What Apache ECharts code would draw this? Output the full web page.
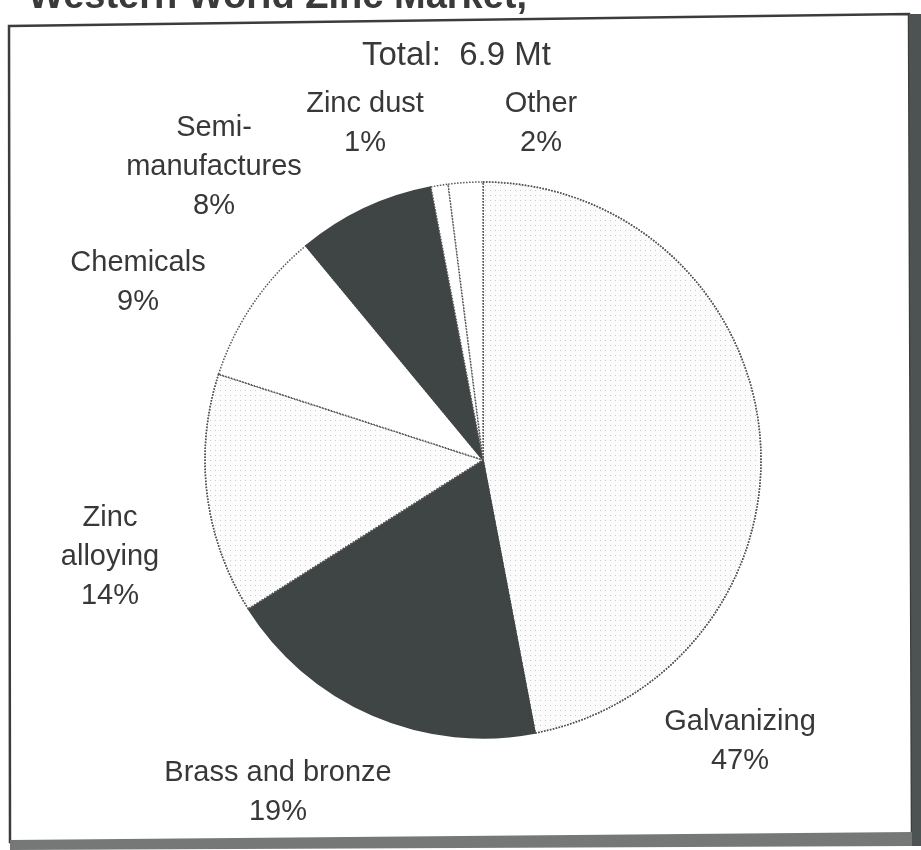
<!DOCTYPE html>
<html>
<head>
<meta charset="utf-8">
<title>Western World Zinc Market</title>
<script src="https://cdn.jsdelivr.net/npm/echarts@6/dist/echarts.min.js"></script>
<style>
  html, body { margin: 0; padding: 0; background: #fff; }
  #chart { width: 921px; height: 850px; }
</style>
</head>
<body>
<div id="chart"></div>
<script>
const categories = ["Galvanizing", "Brass and bronze", "Zinc alloying", "Chemicals", "Semi-manufactures", "Zinc dust", "Other"];
const labelText = ["Galvanizing", "Brass and bronze", "Zinc\nalloying", "Chemicals", "Semi-\nmanufactures", "Zinc dust", "Other"];
const shares = [47, 19, 14, 9, 8, 1, 2];
const totalText = "Total:  6.9 Mt";

const FONT = "'Liberation Sans', Arial, sans-serif";
const DARK = "#3f4545";
const INK = "#383838";

// where each label block sits, as in the scan (centre of the block)
const LABEL_AT = {
  "Galvanizing": [740, 741],
  "Brass and bronze": [278, 792],
  "Zinc alloying": [110, 557],
  "Chemicals": [138, 282],
  "Semi-manufactures": [214, 167],
  "Zinc dust": [365, 123],
  "Other": [541, 123],
};

const stipple = {
  symbol: "rect",
  symbolSize: 1,
  color: "rgba(95,95,95,0.32)",
  dashArrayX: [1, 4],
  dashArrayY: [1, 4],
};

const SLICE_STYLE = {
  "Galvanizing": { color: "#fbfbfb", decal: stipple, borderColor: "#555", borderType: "dotted" },
  "Brass and bronze": { color: DARK, borderColor: DARK },
  "Zinc alloying": { color: "#fcfcfc", decal: stipple, borderColor: "#555", borderType: "dotted" },
  "Chemicals": { color: "#ffffff", borderColor: "#555", borderType: "dotted" },
  "Semi-manufactures": { color: DARK, borderColor: DARK },
  "Zinc dust": { color: "#ffffff", borderColor: "#555", borderType: "dotted" },
  "Other": { color: "#ffffff", borderColor: "#555", borderType: "dotted" },
};

const chart = echarts.init(document.getElementById("chart"), null, { renderer: "canvas" });

const data = categories.map((name, i) => ({
  name,
  value: shares[i],
  itemStyle: Object.assign({ borderWidth: 1.5 }, SLICE_STYLE[name]),
}));

chart.setOption({
  animation: false,
  backgroundColor: "#ffffff",
  title: [
    {
      text: "Western World Zinc Market,",
      left: 28,
      top: -21,
      padding: 0,
      textStyle: { fontFamily: FONT, fontSize: 38, fontWeight: "bold", color: "#3a3a3a" },
    },
    {
      text: totalText,
      left: 362,
      top: 39,
      padding: 0,
      textStyle: { fontFamily: FONT, fontSize: 33, fontWeight: "normal", color: INK, lineHeight: 33 },
    },
  ],
  graphic: [
    {
      type: "polygon",
      shape: { points: [[9, 26], [909, 14], [912, 836], [10, 842]] },
      style: { fill: "none", stroke: "#3c3c3c", lineWidth: 2.5 },
    },
    {
      type: "polygon",
      shape: { points: [[909, 14], [921, 14], [921, 846], [912, 846]] },
      style: { fill: "#4d5252" },
    },
    {
      type: "polygon",
      shape: { points: [[10, 840], [912, 832], [912, 846], [10, 850]] },
      style: { fill: "#767878" },
    },
  ],
  series: [
    {
      type: "pie",
      center: [483, 460],
      radius: 278,
      startAngle: 90,
      clockwise: true,
      avoidLabelOverlap: false,
      silent: true,
      emphasis: { disabled: true },
      label: {
        show: true,
        position: "outside",
        fontFamily: FONT,
        fontSize: 29,
        lineHeight: 39,
        color: INK,
        align: "center",
        formatter: (p) => `${labelText[p.dataIndex]}\n${p.value}%`,
      },
      labelLine: { show: false },
      labelLayout: (params) => {
        const at = LABEL_AT[categories[params.dataIndex]];
        return { x: at[0], y: at[1], align: "center", verticalAlign: "middle" };
      },
      data,
    },
  ],
});
</script>
</body>
</html>
